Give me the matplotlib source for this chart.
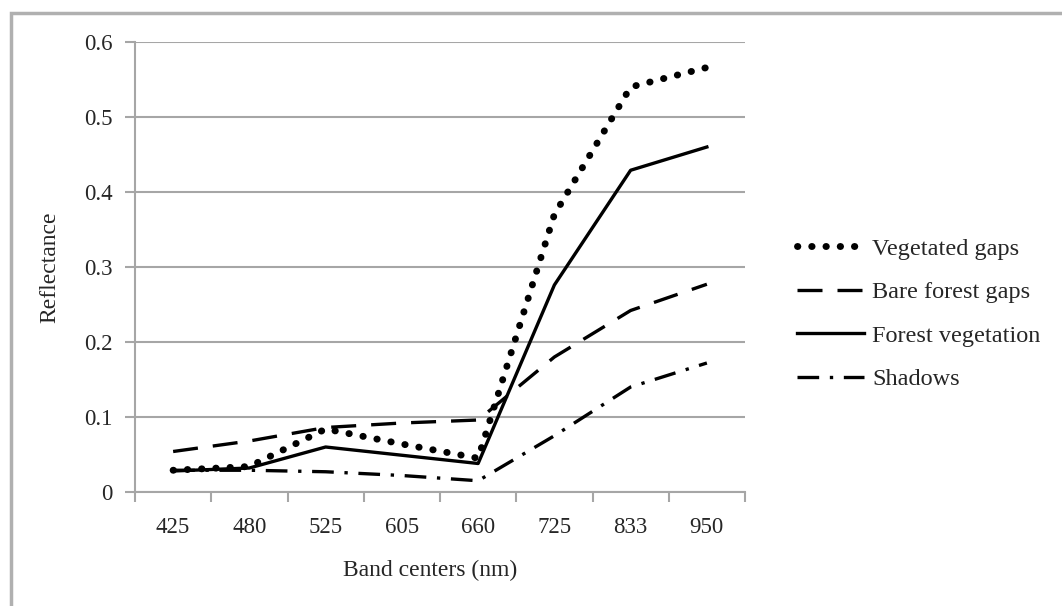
import matplotlib
matplotlib.use("Agg")
import matplotlib.pyplot as plt
from matplotlib.patches import Rectangle
from matplotlib.ticker import FixedLocator

plt.rcParams['font.family'] = ['Liberation Serif', 'DejaVu Serif']

bands = ["425", "480", "525", "605", "660", "725", "833", "950"]
vegetated_gaps = [0.029, 0.034, 0.084, 0.064, 0.045, 0.37, 0.54, 0.566]
bare_forest_gaps = [0.054, 0.068, 0.086, 0.092, 0.096, 0.18, 0.242, 0.277]
forest_vegetation = [0.028, 0.032, 0.060, 0.049, 0.038, 0.276, 0.429, 0.46]
shadows = [0.029, 0.029, 0.027, 0.022, 0.015, 0.075, 0.14, 0.172]
series_names = ["Vegetated gaps", "Bare forest gaps", "Forest vegetation", "Shadows"]
y_ticks = [0, 0.1, 0.2, 0.3, 0.4, 0.5, 0.6]

fig = plt.figure(figsize=(10.62, 6.06), dpi=100)
ax = fig.add_axes([135/1062, 1-492/606, (745-135)/1062, (492-42)/606])

x = list(range(len(bands)))
grid_c = '#a6a6a6'
txt_c = '#262626'

l1, = ax.plot(x, vegetated_gaps, color='black', lw=5.0, dashes=(0.05, 2.0),
              dash_capstyle='round')
l2, = ax.plot(x, bare_forest_gaps, color='black', lw=2.4, dashes=(7.5, 4.5))
l3, = ax.plot(x, forest_vegetation, color='black', lw=2.4)
l4, = ax.plot(x, shadows, color='black', lw=2.4, dashes=(6.5, 3.2, 1.0, 3.2))

ax.set_xlim(-0.5, len(bands) - 0.5)
ax.set_ylim(0, 0.6)
ax.set_yticks(y_ticks)
ax.set_yticklabels(["0" if v == 0 else f"{v:.1f}" for v in y_ticks])
ax.yaxis.grid(True, color=grid_c, lw=1.5)
ax.set_axisbelow(True)

ax.set_xticks(x)
ax.set_xticklabels(bands)
ax.xaxis.set_minor_locator(FixedLocator([i - 0.5 for i in range(len(bands) + 1)]))
ax.tick_params(axis='x', which='major', length=0, pad=18, labelsize=16.5, labelcolor=txt_c)
ax.tick_params(axis='x', which='minor', length=7, width=1.5, color=grid_c, direction='out')
ax.tick_params(axis='y', which='major', length=7, width=1.5, color=grid_c, pad=9,
               labelsize=16.5, labelcolor=txt_c)

for s in ['top', 'right']:
    ax.spines[s].set_visible(False)
for s in ['left', 'bottom']:
    ax.spines[s].set_color(grid_c)
    ax.spines[s].set_linewidth(1.5)

ax.set_xlabel("Band centers (nm)", fontsize=17, color=txt_c)
ax.xaxis.set_label_coords(430/1062, 1-560/606, transform=fig.transFigure)
ax.set_ylabel("Reflectance", fontsize=17, color=txt_c)
ax.yaxis.set_label_coords(60/1062, 1-267/606, transform=fig.transFigure)

leg = fig.legend([l1, l2, l3, l4], series_names, loc='center left',
                 bbox_to_anchor=(797/1062, 1-314/606), frameon=False,
                 borderpad=0, borderaxespad=0, handlelength=2.75,
                 handletextpad=0.35, labelspacing=0.88, fontsize=17.5)
for t in leg.get_texts():
    t.set_color(txt_c)

fig.patches.append(Rectangle((11/1062, -0.5), 2.0, (1-13/606) + 0.5,
                             transform=fig.transFigure, fill=False,
                             edgecolor='#b0b0b0', lw=2.5))

fig.savefig("out.png", dpi=100)
